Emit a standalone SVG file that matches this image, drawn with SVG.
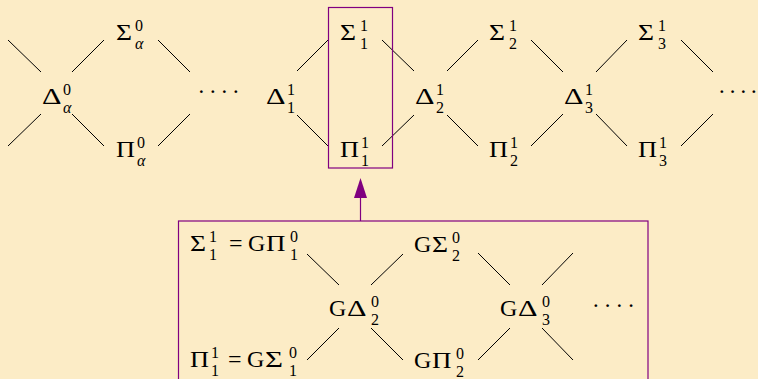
<svg xmlns="http://www.w3.org/2000/svg" width="758" height="379" viewBox="0 0 758 379">
<style>
.t{font-family:"Liberation Serif","Times New Roman",serif;font-size:24px;fill:#000}
.s{font-size:16px}
.i{font-style:italic}
.d{font-family:"Liberation Serif","Times New Roman",serif;font-size:23px;fill:#000}
.ln{stroke:#000;stroke-width:1;fill:none}
.hl{stroke:#800080;stroke-width:1.2;fill:none}
</style>
<rect width="758" height="379" fill="#FCECC6"/>
<g id="connectors">
<line class="ln" x1="8" y1="40" x2="41" y2="72"/>
<line class="ln" x1="72" y1="72" x2="104" y2="40"/>
<line class="ln" x1="8" y1="146" x2="41" y2="114"/>
<line class="ln" x1="72" y1="114" x2="104" y2="146"/>
<line class="ln" x1="158" y1="40" x2="190" y2="72"/>
<line class="ln" x1="158" y1="146" x2="190" y2="114"/>
<line class="ln" x1="297" y1="71" x2="328" y2="40"/>
<line class="ln" x1="297" y1="115" x2="328" y2="146"/>
<line class="ln" x1="382" y1="40" x2="414" y2="71"/>
<line class="ln" x1="382" y1="146" x2="414" y2="115"/>
<line class="ln" x1="447" y1="71" x2="478" y2="40"/>
<line class="ln" x1="447" y1="115" x2="478" y2="146"/>
<line class="ln" x1="531" y1="40" x2="563" y2="72"/>
<line class="ln" x1="531" y1="146" x2="563" y2="114"/>
<line class="ln" x1="596" y1="72" x2="627" y2="40"/>
<line class="ln" x1="596" y1="114" x2="627" y2="146"/>
<line class="ln" x1="681" y1="40" x2="713" y2="72"/>
<line class="ln" x1="681" y1="146" x2="713" y2="114"/>
<line class="ln" x1="307" y1="254" x2="339" y2="285"/>
<line class="ln" x1="371" y1="285" x2="403" y2="254"/>
<line class="ln" x1="339" y1="328" x2="307" y2="360"/>
<line class="ln" x1="371" y1="328" x2="403" y2="360"/>
<line class="ln" x1="478" y1="253" x2="510" y2="285"/>
<line class="ln" x1="542" y1="285" x2="573" y2="253"/>
<line class="ln" x1="510" y1="328" x2="478" y2="360"/>
<line class="ln" x1="542" y1="328" x2="573" y2="360"/>
<line class="hl" x1="360.5" y1="221" x2="360.5" y2="196"/>
<polygon points="360.5,178 354,198 367,198" fill="#800080"/>
</g>
<g id="highlight"><rect class="hl" x="328.5" y="7.5" width="64" height="160.5"/></g>
<g id="lower-box"><rect class="hl" x="178.5" y="221" width="469.5" height="180"/></g>
<g id="delta-alpha0"><text class="t"><tspan x="42" y="104" textLength="19.5" lengthAdjust="spacingAndGlyphs">Δ</tspan><tspan class="s" x="63" y="95">0</tspan><tspan class="s i" x="63" y="113">α</tspan></text></g>
<g id="sigma-alpha0"><text class="t"><tspan x="116" y="40" textLength="16" lengthAdjust="spacingAndGlyphs">Σ</tspan><tspan class="s" x="135" y="31">0</tspan><tspan class="s i" x="135" y="49">α</tspan></text></g>
<g id="pi-alpha0"><text class="t"><tspan x="116" y="157" textLength="19" lengthAdjust="spacingAndGlyphs">Π</tspan><tspan class="s" x="137" y="148">0</tspan><tspan class="s i" x="137" y="166">α</tspan></text></g>
<g id="dots1"><text class="d" x="197.6 209.1 220.6 232.1" y="99">····</text></g>
<g id="delta-1-1"><text class="t"><tspan x="266" y="104" textLength="19.5" lengthAdjust="spacingAndGlyphs">Δ</tspan><tspan class="s" x="287" y="95">1</tspan><tspan class="s" x="287" y="113">1</tspan></text></g>
<g id="sigma-1-1"><text class="t"><tspan x="340" y="40" textLength="16" lengthAdjust="spacingAndGlyphs">Σ</tspan><tspan class="s" x="360" y="31">1</tspan><tspan class="s" x="360" y="49">1</tspan></text></g>
<g id="pi-1-1"><text class="t"><tspan x="340" y="157" textLength="19" lengthAdjust="spacingAndGlyphs">Π</tspan><tspan class="s" x="361" y="148">1</tspan><tspan class="s" x="361" y="166">1</tspan></text></g>
<g id="delta-2-1"><text class="t"><tspan x="415" y="104" textLength="19.5" lengthAdjust="spacingAndGlyphs">Δ</tspan><tspan class="s" x="436" y="95">1</tspan><tspan class="s" x="436" y="113">2</tspan></text></g>
<g id="sigma-2-1"><text class="t"><tspan x="489" y="40" textLength="16" lengthAdjust="spacingAndGlyphs">Σ</tspan><tspan class="s" x="509" y="31">1</tspan><tspan class="s" x="509" y="49">2</tspan></text></g>
<g id="pi-2-1"><text class="t"><tspan x="489" y="157" textLength="19" lengthAdjust="spacingAndGlyphs">Π</tspan><tspan class="s" x="510" y="148">1</tspan><tspan class="s" x="510" y="166">2</tspan></text></g>
<g id="delta-3-1"><text class="t"><tspan x="564" y="104" textLength="19.5" lengthAdjust="spacingAndGlyphs">Δ</tspan><tspan class="s" x="585" y="95">1</tspan><tspan class="s" x="585" y="113">3</tspan></text></g>
<g id="sigma-3-1"><text class="t"><tspan x="638" y="40" textLength="16" lengthAdjust="spacingAndGlyphs">Σ</tspan><tspan class="s" x="658" y="31">1</tspan><tspan class="s" x="658" y="49">3</tspan></text></g>
<g id="pi-3-1"><text class="t"><tspan x="638" y="157" textLength="19" lengthAdjust="spacingAndGlyphs">Π</tspan><tspan class="s" x="659" y="148">1</tspan><tspan class="s" x="659" y="166">3</tspan></text></g>
<g id="dots2"><text class="d" x="718.1 728.8 739.4 750.1" y="99">····</text></g>
<g id="sigma11-eq"><text class="t"><tspan x="190" y="251" textLength="16" lengthAdjust="spacingAndGlyphs">Σ</tspan><tspan class="s" x="209" y="242">1</tspan><tspan class="s" x="209" y="260">1</tspan><tspan x="229 248" y="251">=G</tspan><tspan x="266" y="251" textLength="19.5" lengthAdjust="spacingAndGlyphs">Π</tspan><tspan class="s" x="290" y="242">0</tspan><tspan class="s" x="290" y="260">1</tspan></text></g>
<g id="g-delta-2-0"><text class="t"><tspan x="329" y="316">G</tspan><tspan x="347" y="316" textLength="19.5" lengthAdjust="spacingAndGlyphs">Δ</tspan><tspan class="s" x="371" y="307">0</tspan><tspan class="s" x="371" y="325">2</tspan></text></g>
<g id="g-sigma-2-0"><text class="t"><tspan x="414" y="252">G</tspan><tspan x="432" y="252" textLength="16" lengthAdjust="spacingAndGlyphs">Σ</tspan><tspan class="s" x="452" y="243">0</tspan><tspan class="s" x="452" y="261">2</tspan></text></g>
<g id="g-delta-3-0"><text class="t"><tspan x="500" y="316">G</tspan><tspan x="518" y="316" textLength="19.5" lengthAdjust="spacingAndGlyphs">Δ</tspan><tspan class="s" x="542" y="307">0</tspan><tspan class="s" x="542" y="325">3</tspan></text></g>
<g id="g-pi-2-0"><text class="t"><tspan x="414" y="368">G</tspan><tspan x="432" y="368" textLength="19.5" lengthAdjust="spacingAndGlyphs">Π</tspan><tspan class="s" x="456" y="359">0</tspan><tspan class="s" x="456" y="377">2</tspan></text></g>
<g id="pi11-eq"><text class="t"><tspan x="190" y="367" textLength="19" lengthAdjust="spacingAndGlyphs">Π</tspan><tspan class="s" x="211" y="358">1</tspan><tspan class="s" x="211" y="376">1</tspan><tspan x="228 247" y="367">=G</tspan><tspan x="265" y="367" textLength="18" lengthAdjust="spacingAndGlyphs">Σ</tspan><tspan class="s" x="289" y="358">0</tspan><tspan class="s" x="289" y="376">1</tspan></text></g>
<g id="dots3"><text class="d" x="592.1 603.8 615.5 627.2" y="313">····</text></g>
</svg>
